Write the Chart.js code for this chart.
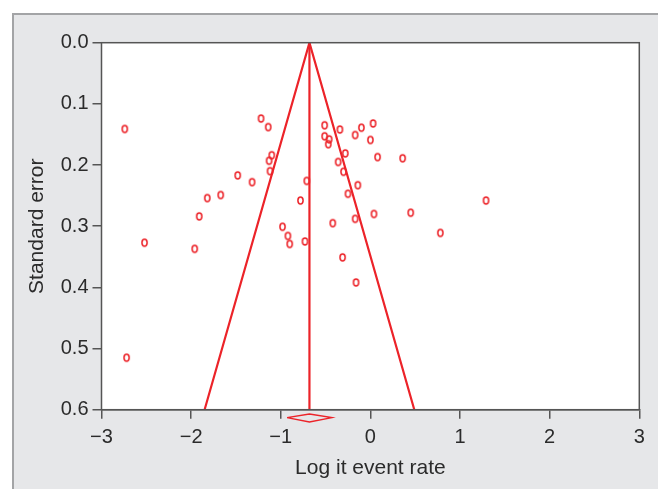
<!DOCTYPE html>
<html>
<head>
<meta charset="utf-8">
<script src="https://cdn.jsdelivr.net/npm/chart.js"></script>
<style>
  html, body { margin: 0; padding: 0; background: #ffffff; }
  #panel {
    position: absolute; left: 12px; top: 13px; right: 0; bottom: 0;
    background: #e6e7e9;
    border-top: 2px solid #a3a4a6; border-left: 2px solid #a3a4a6;
  }
  #funnelChart { position: absolute; left: 0; top: 0; }
</style>
</head>
<body>
<div id="panel"></div>
<canvas id="funnelChart" width="658" height="489"></canvas>
<script>
// Study estimates (logit event rate) and their standard errors
const studyLogit = [
  -2.74, -2.72, -2.52, -1.96, -1.91, -1.82, -1.67, -1.48, -1.32, -1.22, -1.14,
  -1.10, -1.13, -1.12, -0.98, -0.92, -0.90, -0.78, -0.71, -0.73, -0.51, -0.51,
  -0.46, -0.47, -0.34, -0.10, 0.03, -0.17, 0.00, -0.28, -0.36, 0.08, 0.36,
  -0.30, -0.14, -0.25, 1.29, 0.04, 0.45, -0.17, -0.42, 0.78, -0.31, -0.16
];
const studyStdErr = [
  0.141, 0.515, 0.327, 0.337, 0.284, 0.254, 0.249, 0.217, 0.228, 0.124, 0.138,
  0.184, 0.193, 0.210, 0.301, 0.316, 0.329, 0.258, 0.226, 0.325, 0.135, 0.153,
  0.158, 0.166, 0.142, 0.139, 0.132, 0.151, 0.159, 0.181, 0.195, 0.187, 0.189,
  0.211, 0.233, 0.247, 0.258, 0.280, 0.278, 0.288, 0.295, 0.311, 0.351, 0.392
];

// Pooled estimate and 95% funnel limits
const pooledLogit = -0.68;
const funnelX = [-1.85, -0.68, 0.49];
const funnelY = [0.6, 0.0, 0.6];
const centreX = [-0.68, -0.68];
const centreY = [0.0, 0.6];
// Summary diamond below the axis
const diamondX = [-0.93, -0.68, -0.43, -0.68, -0.93];
const diamondY = [0.613, 0.607, 0.613, 0.620, 0.613];

const xTicks = [-3, -2, -1, 0, 1, 2, 3];
const yTicks = [0.0, 0.1, 0.2, 0.3, 0.4, 0.5, 0.6];

const red = "#ec2329";
const axisGrey = "#555555";

function toPoints(xs, ys) {
  return xs.map((x, i) => ({ x: x, y: ys[i] }));
}

// small hollow "o" marker
function makeMarker() {
  const c = document.createElement("canvas");
  c.width = 9; c.height = 11;
  const g = c.getContext("2d");
  g.strokeStyle = red;
  g.lineWidth = 1.5;
  g.beginPath();
  g.ellipse(4.5, 5.5, 2.6, 3.4, 0, 0, Math.PI * 2);
  g.stroke();
  return c;
}

// white plot area and box around it (top and right edges)
const frameBox = {
  id: "frameBox",
  beforeDatasetsDraw(chart) {
    const { ctx, chartArea } = chart;
    ctx.save();
    ctx.fillStyle = "#ffffff";
    ctx.fillRect(chartArea.left, chartArea.top, chartArea.width, chartArea.height);
    ctx.restore();
  },
  afterDraw(chart) {
    const { ctx, chartArea } = chart;
    ctx.save();
    ctx.strokeStyle = axisGrey;
    ctx.lineWidth = 1.5;
    ctx.strokeRect(chartArea.left, chartArea.top, chartArea.width, chartArea.height);
    ctx.restore();
  }
};

const tickFont = { family: "'Liberation Sans', Arial, sans-serif", size: 20 };
const titleFont = { family: "'Liberation Sans', Arial, sans-serif", size: 21 };

new Chart(document.getElementById("funnelChart"), {
  type: "scatter",
  data: {
    datasets: [
      {
        data: toPoints(funnelX, funnelY),
        showLine: true,
        borderColor: red,
        borderWidth: 2.2,
        pointRadius: 0,
        fill: false
      },
      {
        data: toPoints(centreX, centreY),
        showLine: true,
        borderColor: red,
        borderWidth: 2.2,
        pointRadius: 0,
        fill: false
      },
      {
        data: toPoints(diamondX, diamondY),
        showLine: true,
        borderColor: red,
        borderWidth: 1.4,
        pointRadius: 0,
        fill: false,
        clip: false
      },
      {
        data: toPoints(studyLogit, studyStdErr),
        pointStyle: makeMarker(),
        pointRadius: 5
      }
    ]
  },
  options: {
    responsive: false,
    animation: false,
    layout: { padding: { top: 42.7, right: 18.7, left: 0, bottom: 0 } },
    plugins: { legend: { display: false }, tooltip: { enabled: false } },
    scales: {
      x: {
        type: "linear",
        min: -3,
        max: 3,
        afterFit: (s) => { s.height = 79.3; },
        afterBuildTicks: (s) => { s.ticks = xTicks.map((v) => ({ value: v })); },
        ticks: {
          font: tickFont,
          color: "#2b2b2b",
          padding: 7,
          callback: (v) => (v < 0 ? "\u2212" + Math.abs(v) : String(v))
        },
        grid: { drawOnChartArea: false, tickLength: 9, color: axisGrey, lineWidth: 1.5 },
        border: { color: axisGrey, width: 1.5 },
        title: {
          display: true,
          text: "Log it event rate",
          font: titleFont,
          color: "#2b2b2b",
          padding: 8
        }
      },
      y: {
        type: "linear",
        min: 0,
        max: 0.6,
        reverse: true,
        afterFit: (s) => { s.width = 101.5; },
        afterBuildTicks: (s) => { s.ticks = yTicks.map((v) => ({ value: v })); },
        ticks: {
          font: tickFont,
          color: "#2b2b2b",
          padding: 4,
          callback: (v) => Number(v).toFixed(1)
        },
        grid: { drawOnChartArea: false, tickLength: 9, color: axisGrey, lineWidth: 1.5 },
        border: { color: axisGrey, width: 1.5 },
        title: {
          display: true,
          text: "Standard error",
          font: titleFont,
          color: "#2b2b2b",
          padding: 25
        }
      }
    }
  },
  plugins: [frameBox]
});
</script>
</body>
</html>
